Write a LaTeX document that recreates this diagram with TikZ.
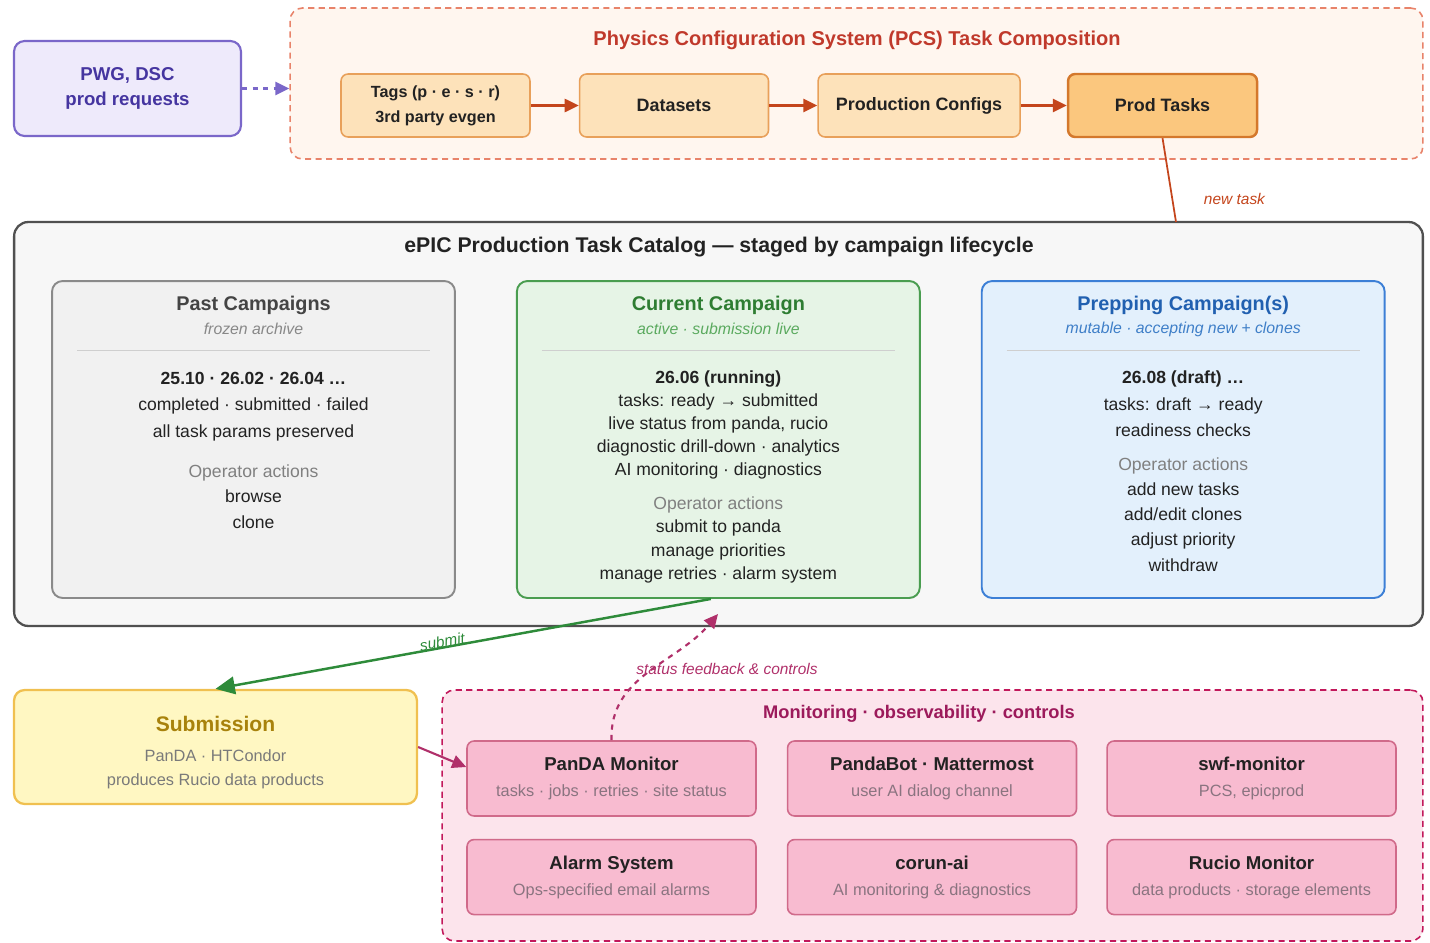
\documentclass[tikz,border=0pt]{standalone}
\usepackage{fontspec}
\setmainfont{Liberation Sans}
\usetikzlibrary{positioning}
\usetikzlibrary{arrows.meta}

\definecolor{pwgline}{HTML}{7A67C9}
\definecolor{pwgfill}{HTML}{EEEAFB}
\definecolor{pwgtext}{HTML}{4535A0}
\definecolor{pcsline}{HTML}{E8836A}
\definecolor{pcsbg}{HTML}{FFF6EF}
\definecolor{pcstitle}{HTML}{C0392B}
\definecolor{pcsfill}{HTML}{FDE2BA}
\definecolor{pcsboxline}{HTML}{E8A05A}
\definecolor{prodfill}{HTML}{FBC77E}
\definecolor{prodline}{HTML}{D4782C}
\definecolor{pcsarrow}{HTML}{C4451C}
\definecolor{catline}{HTML}{505050}
\definecolor{catfill}{HTML}{F7F7F7}
\definecolor{pastfill}{HTML}{F1F1F1}
\definecolor{pastline}{HTML}{8A8A8A}
\definecolor{pastttl}{HTML}{444444}
\definecolor{pastsub}{HTML}{888888}
\definecolor{curfill}{HTML}{E6F4E6}
\definecolor{curline}{HTML}{4A9D50}
\definecolor{curttl}{HTML}{2E7D32}
\definecolor{cursub}{HTML}{5BAA5F}
\definecolor{prepfill}{HTML}{E3F0FC}
\definecolor{prepline}{HTML}{3C7FD6}
\definecolor{prepttl}{HTML}{2160B0}
\definecolor{prepsub}{HTML}{3F7FC8}
\definecolor{subfill}{HTML}{FFF7C2}
\definecolor{subline}{HTML}{F0C050}
\definecolor{subttl}{HTML}{A8820C}
\definecolor{subgray}{HTML}{7A7A7A}
\definecolor{subarrow}{HTML}{2E8B3A}
\definecolor{monbg}{HTML}{FCE4EC}
\definecolor{monline}{HTML}{C2185B}
\definecolor{monttl}{HTML}{9C1A5B}
\definecolor{monfill}{HTML}{F8BBD0}
\definecolor{monboxline}{HTML}{D06A8A}
\definecolor{mongray}{HTML}{8A7480}
\definecolor{monarrow}{HTML}{B0306A}
\definecolor{textdark}{HTML}{222222}
\definecolor{opgray}{HTML}{808080}
\definecolor{sepgray}{HTML}{CFCFCF}

\tikzset{
  box/.style={draw, rounded corners=4pt, line width=0.9pt, align=center, inner sep=2pt},
  container/.style={draw, rounded corners=7pt, line width=0.9pt, dash pattern=on 3.5pt off 2.5pt},
  pcsbox/.style={box, draw=pcsboxline, fill=pcsfill, text=textdark, minimum width=3.78cm, minimum height=1.26cm, font=\bfseries\fontsize{10.2}{14}\selectfont},
  campbox/.style={box, rounded corners=6pt, line width=1.1pt, minimum width=8.06cm, minimum height=6.34cm},
  monbox/.style={box, draw=monboxline, fill=monfill, text=textdark, minimum width=5.78cm, minimum height=1.5cm, font=\fontsize{9.3}{14.7}\selectfont},
  flow/.style={-{Triangle[length=8pt,width=7.5pt]}, line width=1.2pt},
  cardtitle/.style={font=\bfseries\fontsize{11.3}{14}\selectfont},
  cardsub/.style={font=\itshape\fontsize{9}{12}\selectfont},
  cardtext/.style={align=center, text=textdark},
  sepline/.style={draw=sepgray, line width=0.6pt},
  edgelabel/.style={font=\itshape\fontsize{8.8}{10}\selectfont}
}

\begin{document}
\begin{tikzpicture}[x=0.02cm,y=-0.02cm]
  \useasboundingbox (0,0) rectangle (1430,943);

  % Requests and PCS
  \node[box, draw=pwgline, fill=pwgfill, text=pwgtext, line width=1.2pt, rounded corners=6pt,
        minimum width=4.54cm, minimum height=1.9cm, font=\bfseries\fontsize{10.6}{14.7}\selectfont]
        (pwg) at (127.5,88.5) {PWG, DSC\\prod requests};
  \node[container, draw=pcsline, fill=pcsbg, minimum width=22.66cm, minimum height=3.02cm] (pcs) at (856.5,83.5) {};
  \node[font=\bfseries\fontsize{11.4}{14}\selectfont, text=pcstitle] (pcstitle) at (857,40)
        {Physics Configuration System (PCS) Task Composition};
  \node[pcsbox, font=\bfseries\fontsize{9.2}{14.2}\selectfont] (tags) at (435.5,105.5) {Tags (p · e · s · r)\\3rd party evgen};
  \node[pcsbox, right=0.96cm of tags] (datasets) {Datasets};
  \node[pcsbox, right=0.96cm of datasets, minimum width=4.04cm] (configs) {Production Configs};
  \node[pcsbox, right=0.92cm of configs, fill=prodfill, draw=prodline, line width=1.4pt] (prodtasks) {Prod Tasks};

  % Catalog
  \node[draw=catline, fill=catfill, line width=1.3pt, rounded corners=8pt,
        minimum width=28.18cm, minimum height=8.08cm] (cat) at (718.5,424) {};
  \node[font=\bfseries\fontsize{12.1}{14}\selectfont, text=textdark] (cattitle) at (719,247)
        {ePIC Production Task Catalog — staged by campaign lifecycle};

  \node[campbox, draw=pastline, fill=pastfill] (past) at (253.5,439.5) {};
  \node[campbox, draw=curline, fill=curfill, right=1.2cm of past] (current) {};
  \node[campbox, draw=prepline, fill=prepfill, right=1.2cm of current] (prep) {};

  % Past
  \node[cardtitle, text=pastttl] (pastt) at ([yshift=-0.5cm]past.north) {Past Campaigns};
  \node[cardsub, text=pastsub] (pasts) at ([yshift=-0.98cm]past.north) {frozen archive};
  \draw[sepline] ([xshift=0.52cm,yshift=-1.4cm]past.north west) -- ([xshift=-0.52cm,yshift=-1.4cm]past.north east);
  \node[cardtext, font=\fontsize{10}{15}\selectfont] (pastb) at ([yshift=-2.53cm]past.north)
        {\textbf{25.10 · 26.02 · 26.04 …}\\completed · submitted · failed\\all task params preserved};
  \node[cardtext, font=\fontsize{10}{14.5}\selectfont] (pasto) at ([yshift=-4.33cm]past.north)
        {\textcolor{opgray}{Operator actions}\\browse\\clone};

  % Current
  \node[cardtitle, text=curttl] (curt) at ([yshift=-0.5cm]current.north) {Current Campaign};
  \node[cardsub, text=cursub] (curs) at ([yshift=-0.98cm]current.north) {active · submission live};
  \draw[sepline] ([xshift=0.52cm,yshift=-1.4cm]current.north west) -- ([xshift=-0.52cm,yshift=-1.4cm]current.north east);
  \node[cardtext, font=\fontsize{10}{13.2}\selectfont] (curb) at ([yshift=-2.9cm]current.north)
        {\textbf{26.06 (running)}\\tasks: ready → submitted\\live status from panda, rucio\\diagnostic drill-down · analytics\\AI monitoring · diagnostics};
  \node[cardtext, font=\fontsize{10}{13.4}\selectfont] (curo) at ([yshift=-5.2cm]current.north)
        {\textcolor{opgray}{Operator actions}\\submit to panda\\manage priorities\\manage retries · alarm system};

  % Prepping
  \node[cardtitle, text=prepttl] (prept) at ([yshift=-0.5cm]prep.north) {Prepping Campaign(s)};
  \node[cardsub, text=prepsub] (preps) at ([yshift=-0.98cm]prep.north) {mutable · accepting new + clones};
  \draw[sepline] ([xshift=0.52cm,yshift=-1.4cm]prep.north west) -- ([xshift=-0.52cm,yshift=-1.4cm]prep.north east);
  \node[cardtext, font=\fontsize{10}{15}\selectfont] (prepb) at ([yshift=-2.48cm]prep.north)
        {\textbf{26.08 (draft) …}\\tasks: draft → ready\\readiness checks};
  \node[cardtext, font=\fontsize{10}{14.3}\selectfont] (prepo) at ([yshift=-4.69cm]prep.north)
        {\textcolor{opgray}{Operator actions}\\add new tasks\\add/edit clones\\adjust priority\\withdraw};

  % Submission
  \node[box, draw=subline, fill=subfill, line width=1.3pt, rounded corners=6pt,
        minimum width=8.06cm, minimum height=2.28cm] (sub) at (215.5,747) {};
  \node[font=\bfseries\fontsize{12}{14}\selectfont, text=subttl] (subt) at (215.5,724) {Submission};
  \node[cardtext, text=subgray, font=\fontsize{9.3}{13.6}\selectfont] (subb) at (215.5,769)
        {PanDA · HTCondor\\produces Rucio data products};

  % Monitoring
  \node[container, draw=monline, fill=monbg, minimum width=19.62cm, minimum height=5.02cm] (mon) at (932.5,815.5) {};
  \node[font=\bfseries\fontsize{10.4}{14}\selectfont, text=monttl] (montitle) at (919,714)
        {Monitoring · observability · controls};
  \node[monbox] (pandamon) at (611.5,778.5)
        {\textbf{\fontsize{10.6}{14}\selectfont PanDA Monitor}\\\textcolor{mongray}{tasks · jobs · retries · site status}};
  \node[monbox, right=0.6cm of pandamon] (pandabot)
        {\textbf{\fontsize{10.6}{14}\selectfont PandaBot · Mattermost}\\\textcolor{mongray}{user AI dialog channel}};
  \node[monbox, right=0.58cm of pandabot] (swfmon)
        {\textbf{\fontsize{10.6}{14}\selectfont swf-monitor}\\\textcolor{mongray}{PCS, epicprod}};
  \node[monbox, below=0.44cm of pandamon] (alarm)
        {\textbf{\fontsize{10.6}{14}\selectfont Alarm System}\\\textcolor{mongray}{Ops-specified email alarms}};
  \node[monbox, below=0.44cm of pandabot] (corun)
        {\textbf{\fontsize{10.6}{14}\selectfont corun-ai}\\\textcolor{mongray}{AI monitoring \& diagnostics}};
  \node[monbox, below=0.44cm of swfmon] (rucio)
        {\textbf{\fontsize{10.6}{14}\selectfont Rucio Monitor}\\\textcolor{mongray}{data products · storage elements}};

  % Edges
  \coordinate (newtask) at (1176,222);
  \coordinate (feedback) at (718,614);
  \draw[flow, dashed, draw=pwgline, line width=1.4pt] (pwg.east) -- (pwg.east -| pcs.west);
  \draw[flow, draw=pcsarrow] (tags) -- (datasets);
  \draw[flow, draw=pcsarrow] (datasets) -- (configs);
  \draw[flow, draw=pcsarrow] (configs) -- (prodtasks);
  \draw[draw=pcsarrow, line width=1pt] (prodtasks.south) -- (newtask)
        node[pos=0.72, right=0.5cm, edgelabel, text=pcsarrow] {new task};
  \draw[-{Triangle[length=11pt,width=10pt]}, draw=subarrow, line width=1.4pt] ([xshift=-0.15cm]current.south) -- (sub.north)
        node[pos=0.54, sloped, above=-4pt, edgelabel, text=subarrow] {submit};
  \draw[flow, draw=monarrow] (sub.east) -- ([yshift=0.23cm]pandamon.west);
  \draw[flow, dashed, draw=monarrow] (pandamon.north) to[out=92,in=-130] (feedback);
  \node[edgelabel, text=monarrow] (fbtext) at (727,669) {status feedback \& controls};
\end{tikzpicture}
\end{document}
